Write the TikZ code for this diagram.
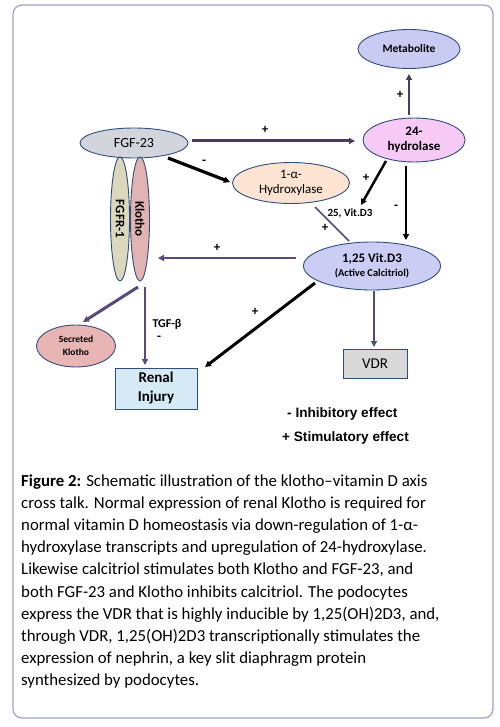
\documentclass[tikz,border=0pt]{standalone}
\usepackage{fontspec}
\setmainfont{Carlito}
\newfontfamily\legendfont{Liberation Sans}
\usetikzlibrary{shapes.geometric,arrows.meta,calc}
\definecolor{framec}{HTML}{A3A3CC}
\definecolor{edgec}{HTML}{2E4E7E}
\definecolor{parrc}{HTML}{5A4A7C}
\definecolor{darrc}{HTML}{453C5E}
\definecolor{metabfill}{HTML}{C9CBF3}
\definecolor{hydfill}{HTML}{F7C9F5}
\definecolor{fgffill}{HTML}{D3D5DC}
\definecolor{alphafill}{HTML}{FDE4D2}
\definecolor{fgfrfill}{HTML}{DCD8BE}
\definecolor{klothofill}{HTML}{E2B3B3}
\definecolor{vitfill}{HTML}{CBCDF4}
\definecolor{secfill}{HTML}{E8B4B4}
\definecolor{renalfill}{HTML}{D6EAF6}
\definecolor{vdrfill}{HTML}{D9D9D9}
\tikzset{
  ell/.style={ellipse, draw=edgec, line width=0.9pt, inner sep=0pt, align=center},
  boxnode/.style={rectangle, draw=edgec, line width=0.9pt, inner sep=0pt, align=center},
  tip/.style={-{Triangle[length=6pt,width=6pt]}},
  sign/.style={font=\fontsize{13}{13}\selectfont\bfseries, inner sep=0pt},
  capline/.style={anchor=base west, inner sep=0pt, font=\fontsize{16.8}{20}\selectfont},
  legline/.style={anchor=west, inner sep=0pt, font=\legendfont\fontsize{13.6}{14}\selectfont\bfseries}
}
\begin{document}
\begin{tikzpicture}[x=1pt,y=-1pt]
\useasboundingbox (0,0) rectangle (499,727);
\fill[white] (0,0) rectangle (499,727);
\draw[framec, line width=1.3pt, rounded corners=9pt] (13,5) rectangle (493,718);

% nodes
\node[ell, fill=metabfill, minimum width=102pt, minimum height=39pt, font=\fontsize{11.5}{12}\selectfont\bfseries] (metab) at (409,49) {Metabolite};
\node[ell, fill=hydfill, minimum width=102pt, minimum height=44pt, font=\fontsize{13}{15}\selectfont\bfseries] (hyd) at (414,140) {24-\\hydrolase};
\node[ell, fill=fgffill, minimum width=108pt, minimum height=30pt, font=\fontsize{14}{15}\selectfont] (fgf) at (134,143) {FGF-23};
\node[ell, fill=alphafill, minimum width=117pt, minimum height=41pt, font=\fontsize{13}{15}\selectfont] (alpha) at (291,183) {1-α-\\Hydroxylase};
\node[ell, fill=fgfrfill, minimum width=124pt, minimum height=19pt, rotate=-90, font=\fontsize{13}{13}\selectfont\bfseries] (fgfr) at (120,219) {FGFR-1};
\node[ell, fill=klothofill, minimum width=124pt, minimum height=19pt, rotate=-90, font=\fontsize{13}{13}\selectfont\bfseries] (klotho) at (140,219) {Klotho};
\node[ell, fill=vitfill, minimum width=137pt, minimum height=48pt, font=\fontsize{13}{15}\selectfont\bfseries] (vit) at (372,266) {1,25 Vit.D3\\[-1pt]{\fontsize{10.5}{12}\selectfont\bfseries(Active Calcitriol)}};
\node[ell, fill=secfill, minimum width=79pt, minimum height=42pt, font=\fontsize{9.5}{13}\selectfont\bfseries] (sec) at (76,346) {Secreted\\Klotho};
\node[boxnode, fill=renalfill, minimum width=82pt, minimum height=41pt, font=\fontsize{15}{19}\selectfont\bfseries] (renal) at (156,388.5) {Renal\\Injury};
\node[boxnode, fill=vdrfill, minimum width=64pt, minimum height=29pt, font=\fontsize{15}{15}\selectfont] (vdr) at (375,363.5) {VDR};
\node[inner sep=0pt, font=\fontsize{11}{12}\selectfont\bfseries] (vit25) at (350,213) {25, Vit.D3};

% connectors
\draw[tip, darrc, line width=3pt] ($(fgf)+(58,-2)$) -- ($(hyd)+(-59,1)$);
\draw[tip, black, line width=3.2pt] ($(fgf)+(34,15)$) -- ($(alpha)+(-61,-1)$);
\draw[tip, darrc, line width=2.5pt] ($(hyd)+(-5,-25)$) -- ($(metab)+(0,25)$);
\draw[tip, black, line width=2.5pt] ($(hyd)+(-28,21)$) -- ($(vit25)+(11,-8)$);
\draw[tip, black, line width=2pt] ($(hyd)+(-8,26)$) -- ($(vit)+(34,-26)$);
\draw[parrc, line width=1.6pt] ($(alpha)+(24,24)$) -- ($(vit)+(-23,-25)$);
\draw[tip, parrc, line width=2.5pt] ($(vit)+(-76,-8)$) -- ($(klotho)+(18,39)$);
\draw[tip, parrc, line width=3pt] ($(klotho)+(-2,68)$) -- ($(sec)+(7,-24)$);
\draw[tip, parrc, line width=2.5pt] ($(klotho)+(5,68)$) -- ($(renal)+(-11,-23.5)$);
\draw[tip, black, line width=3pt] ($(vit)+(-57,17)$) -- ($(renal)+(49,-21.5)$);
\draw[tip, parrc, line width=2pt] ($(vit)+(2,25)$) -- ($(vdr)+(-1,-16.5)$);

% signs
\node[sign] (s1) at (265,130) {+};
\node[sign] (s2) at (204,162) {-};
\node[sign] (s3) at (400,95) {+};
\node[sign] (s4) at (366,178) {+};
\node[sign] (s5) at (396,207) {-};
\node[sign] (s6) at (325,228) {+};
\node[sign] (s7) at (217,248) {+};
\node[inner sep=0pt, font=\fontsize{12}{12}\selectfont\bfseries] (tgf) at (167,324) {TGF-β};
\node[sign] (s8) at (159,338) {-};
\node[sign] (s9) at (255,312) {+};

% legend
\node[legline] (leg1) at (287,414) {- Inhibitory effect};
\node[legline] (leg2) at (282,438) {+ Stimulatory effect};

% caption
\node[capline] (c1) at (21,486.5) {\textbf{Figure 2:} Schematic illustration of the klotho–vitamin D axis};
\node[capline] (c2) at (21,508.6) {cross talk. Normal expression of renal Klotho is required for};
\node[capline] (c3) at (21,530.7) {normal vitamin D homeostasis via down-regulation of 1-α-};
\node[capline] (c4) at (21,552.8) {hydroxylase transcripts and upregulation of 24-hydroxylase.};
\node[capline] (c5) at (21,574.9) {Likewise calcitriol stimulates both Klotho and FGF-23, and};
\node[capline] (c6) at (21,597.0) {both FGF-23 and Klotho inhibits calcitriol. The podocytes};
\node[capline] (c7) at (21,619.1) {express the VDR that is highly inducible by 1,25(OH)2D3, and,};
\node[capline] (c8) at (21,641.2) {through VDR, 1,25(OH)2D3 transcriptionally stimulates the};
\node[capline] (c9) at (21,663.3) {expression of nephrin, a key slit diaphragm protein};
\node[capline] (c10) at (21,685.4) {synthesized by podocytes.};
\end{tikzpicture}
\end{document}
